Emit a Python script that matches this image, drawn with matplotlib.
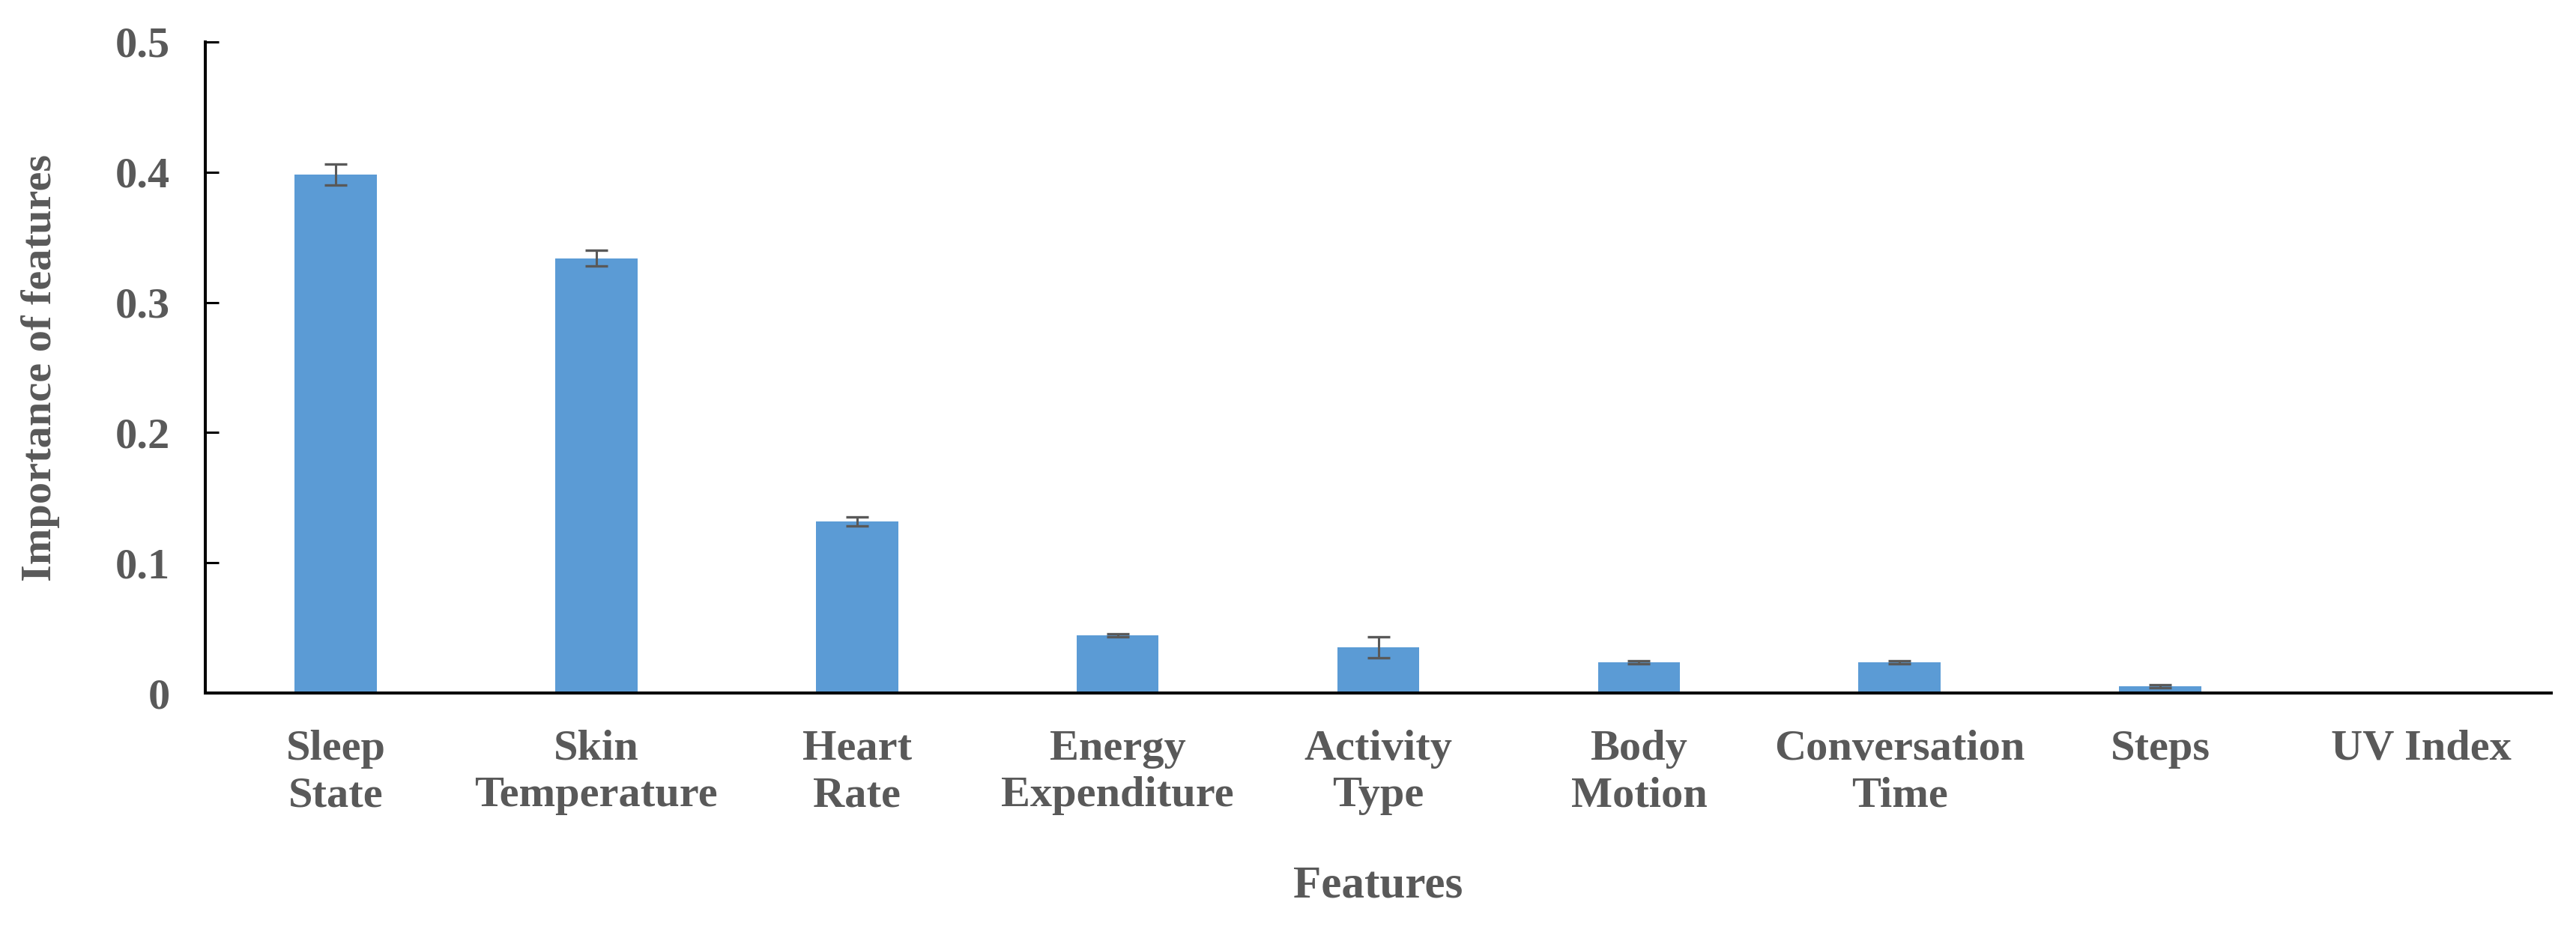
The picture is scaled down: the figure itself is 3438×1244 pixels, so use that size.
"""
Feature importance bar chart with error bars
"""

import numpy as np
import matplotlib
matplotlib.use('Agg')
import matplotlib.pyplot as plt

features = ['Sleep\nState', 'Skin\nTemperature', 'Heart\nRate', 'Energy\nExpenditure',
            'Activity\nType', 'Body\nMotion', 'Conversation\nTime', 'Steps', 'UV Index']
importance = [0.398, 0.334, 0.132, 0.0444, 0.0353, 0.0238, 0.0238, 0.0054, 0.0]
err = [0.008, 0.006, 0.0035, 0.0012, 0.008, 0.0012, 0.0012, 0.0012, 0.0]
yticks = [0, 0.1, 0.2, 0.3, 0.4, 0.5]
ytick_labels = ['0', '0.1', '0.2', '0.3', '0.4', '0.5']

plt.rcParams['font.family'] = ['Liberation Serif', 'DejaVu Serif']
plt.rcParams['font.weight'] = 'bold'
grey = '#595959'

fig = plt.figure(figsize=(34.38, 12.44), dpi=100)
ax = fig.add_axes([0.0797, 0.2564, 0.9107, 0.6986])

x = np.arange(len(features))
ax.bar(x, importance, width=0.315, color='#5B9BD5', zorder=2)

imp = np.array(importance)
e = np.array(err)
m = e > 0
ax.errorbar(x[m], imp[m], yerr=e[m], fmt='none', ecolor=grey,
            elinewidth=2.2, capsize=11, capthick=2.4, zorder=3)

ax.set_xlim(-0.5, len(features) - 0.5)
ax.set_ylim(0, 0.5)
ax.set_yticks(yticks)
ax.set_yticklabels(ytick_labels)
ax.set_xticks(x)
ax.set_xticklabels(features, linespacing=1.27)

for s in ['top', 'right']:
    ax.spines[s].set_visible(False)
for s in ['left', 'bottom']:
    ax.spines[s].set_linewidth(2.9)
    ax.spines[s].set_color('black')

ax.tick_params(axis='y', direction='in', length=13, width=2.2, color='black',
               pad=34, labelsize=42, labelcolor=grey)
ax.tick_params(axis='x', length=0, pad=35, labelsize=42, labelcolor=grey)

ax.set_ylabel('Importance of features', fontsize=42, color=grey, fontweight='bold')
ax.set_xlabel('Features', fontsize=44, color=grey, fontweight='bold')
ax.yaxis.set_label_coords(-0.062, 0.5)
ax.xaxis.set_label_coords(0.5, -0.264)

fig.savefig('out.png', dpi=100)
